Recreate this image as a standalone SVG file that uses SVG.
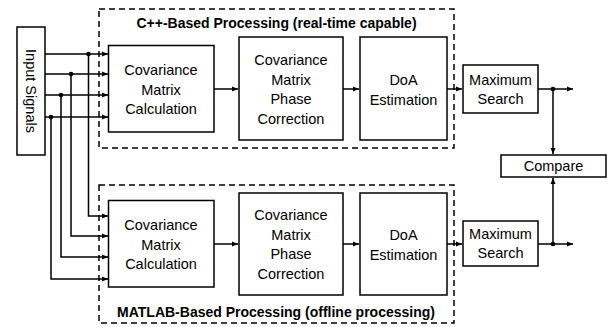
<svg xmlns="http://www.w3.org/2000/svg" width="607" height="327" viewBox="0 0 607 327">
  <defs>
    <marker id="arrow" markerUnits="userSpaceOnUse" markerWidth="7" markerHeight="6" refX="6" refY="3" orient="auto">
      <path d="M0,0.5 L6,3 L0,5.5 Z" fill="#000"/>
    </marker>
    <style>
      .box { fill: #fff; stroke: #000; stroke-width: 1.5; }
      .group { fill: none; stroke: #000; stroke-width: 1.5; stroke-dasharray: 6 4; }
      .wire { fill: none; stroke: #000; stroke-width: 1.5; }
      .arr { marker-end: url(#arrow); }
      .dot { fill: #000; }
      text { font-family: "Liberation Sans", Arial, sans-serif; font-size: 14.5px; fill: #000; text-anchor: middle; }
      .title { font-weight: bold; font-size: 14px; }
    </style>
  </defs>
  <rect width="607" height="327" fill="#fff"/>

  <!-- processing chains (dashed frames) -->
  <g id="cpp-frame">
    <rect class="group" x="99" y="9" width="355" height="139"/>
    <text class="title" x="276.5" y="28">C++-Based Processing (real-time capable)</text>
  </g>
  <g id="matlab-frame">
    <rect class="group" x="99" y="185" width="355" height="138"/>
    <text class="title" x="276" y="317">MATLAB-Based Processing (offline processing)</text>
  </g>

  <!-- connectors -->
  <g id="connectors">
    <!-- input signals to upper chain -->
    <path class="wire arr" d="M45,54 H108"/>
    <path class="wire arr" d="M45,74 H108"/>
    <path class="wire arr" d="M45,95 H108"/>
    <path class="wire arr" d="M45,117 H108"/>
    <!-- branches to lower chain -->
    <path class="wire arr" d="M88.5,54 V216 H108"/>
    <path class="wire arr" d="M71,74 V236 H108"/>
    <path class="wire arr" d="M61,95 V257 H108"/>
    <path class="wire arr" d="M51,117 V279 H108"/>
    <circle class="dot" cx="88.5" cy="54" r="2.3"/>
    <circle class="dot" cx="71" cy="74" r="2.3"/>
    <circle class="dot" cx="61" cy="95" r="2.3"/>
    <circle class="dot" cx="51" cy="117" r="2.3"/>
    <!-- upper chain -->
    <path class="wire arr" d="M214,89 H238"/>
    <path class="wire arr" d="M343,89 H359"/>
    <path class="wire arr" d="M447,89 H462"/>
    <path class="wire arr" d="M538,89 H573"/>
    <!-- lower chain -->
    <path class="wire arr" d="M214,244 H238"/>
    <path class="wire arr" d="M343,244 H359"/>
    <path class="wire arr" d="M447,244 H462"/>
    <path class="wire arr" d="M538,244 H573"/>
    <!-- to comparison -->
    <path class="wire arr" d="M553,89 V154"/>
    <path class="wire arr" d="M553,244 V178"/>
    <circle class="dot" cx="553" cy="89" r="2.3"/>
    <circle class="dot" cx="553" cy="244" r="2.3"/>
  </g>

  <g id="input-signals">
    <rect class="box" x="17" y="27" width="28" height="128"/>
    <text transform="translate(31,91) rotate(90)" y="5">Input Signals</text>
  </g>

  <!-- upper chain -->
  <g id="cov-calc-cpp">
    <rect class="box" x="108.5" y="45.5" width="105.5" height="86.5"/>
    <text x="161" y="75">Covariance</text>
    <text x="161" y="94.5">Matrix</text>
    <text x="161" y="114">Calculation</text>
  </g>
  <g id="phase-corr-cpp">
    <rect class="box" x="239" y="37" width="104" height="103"/>
    <text x="291" y="65">Covariance</text>
    <text x="291" y="84.5">Matrix</text>
    <text x="291" y="104">Phase</text>
    <text x="291" y="123.5">Correction</text>
  </g>
  <g id="doa-cpp">
    <rect class="box" x="360" y="37" width="87" height="103"/>
    <text x="403.5" y="85">DoA</text>
    <text x="403.5" y="104.5">Estimation</text>
  </g>
  <g id="max-search-cpp">
    <rect class="box" x="463" y="65" width="75" height="48"/>
    <text x="500.5" y="85">Maximum</text>
    <text x="500.5" y="104">Search</text>
  </g>

  <!-- lower chain -->
  <g id="cov-calc-matlab">
    <rect class="box" x="108.5" y="200.5" width="105.5" height="86.5"/>
    <text x="161" y="230">Covariance</text>
    <text x="161" y="249.5">Matrix</text>
    <text x="161" y="269">Calculation</text>
  </g>
  <g id="phase-corr-matlab">
    <rect class="box" x="239" y="193" width="104" height="102"/>
    <text x="291" y="220">Covariance</text>
    <text x="291" y="239.5">Matrix</text>
    <text x="291" y="259">Phase</text>
    <text x="291" y="278.5">Correction</text>
  </g>
  <g id="doa-matlab">
    <rect class="box" x="360" y="193" width="87" height="102"/>
    <text x="403.5" y="240">DoA</text>
    <text x="403.5" y="259.5">Estimation</text>
  </g>
  <g id="max-search-matlab">
    <rect class="box" x="463" y="221" width="75" height="45"/>
    <text x="500.5" y="239">Maximum</text>
    <text x="500.5" y="258">Search</text>
  </g>

  <g id="compare">
    <rect class="box" x="501" y="155" width="105" height="22"/>
    <text x="553.5" y="171">Compare</text>
  </g>
</svg>
